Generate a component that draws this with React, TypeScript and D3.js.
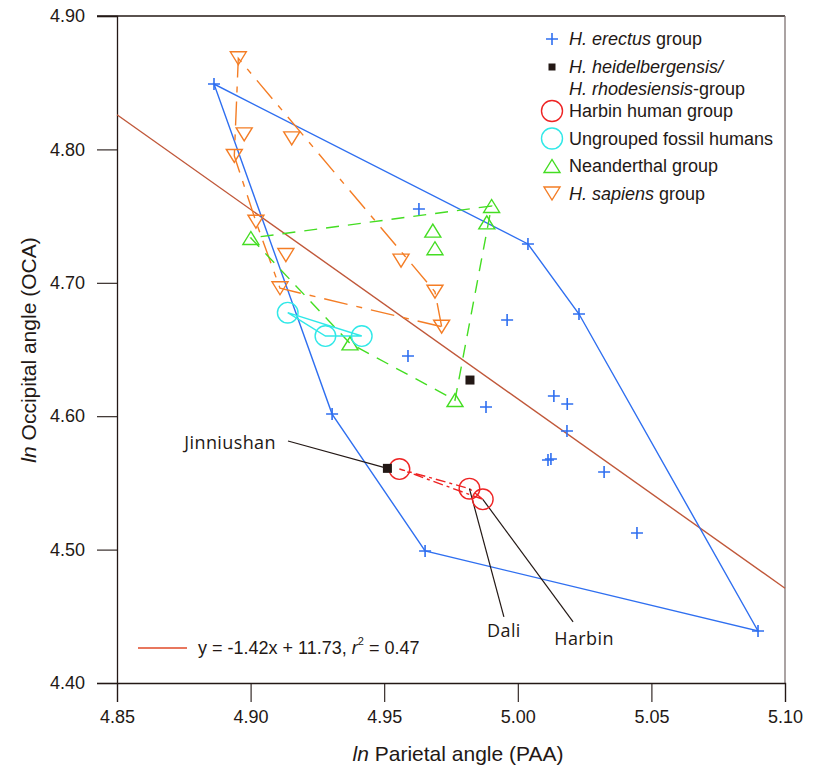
import React, { useEffect, useRef } from "react";
import * as d3 from "d3";

// ---------- data ----------
const xTicks = [4.85, 4.9, 4.95, 5.0, 5.05, 5.1];
const yTicks = [4.4, 4.5, 4.6, 4.7, 4.8, 4.9];

const erectusX = [4.8863, 4.963, 5.0038, 5.0229, 4.996, 4.9589, 5.0135, 5.0185, 4.9881, 4.9305, 5.0184, 5.0113, 5.0124, 5.0323, 5.0446, 4.9653, 5.0899];
const erectusY = [4.849, 4.7553, 4.7291, 4.6766, 4.6721, 4.6451, 4.6151, 4.6091, 4.6069, 4.6016, 4.5889, 4.5672, 4.5679, 4.5582, 4.5124, 4.499, 4.439];

const heidelX = [4.9821, 4.9512];
const heidelY = [4.6271, 4.5609];

const harbinX = [4.9557, 4.9819, 4.9869];
const harbinY = [4.5604, 4.5457, 4.5377];

const ungroupedX = [4.9139, 4.928, 4.9416];
const ungroupedY = [4.6776, 4.6601, 4.6601];

const neanderX = [4.9001, 4.9682, 4.969, 4.9372, 4.9902, 4.9884, 4.9765];
const neanderY = [4.7336, 4.7391, 4.7259, 4.6546, 4.7576, 4.7453, 4.6121];

const sapiensX = [4.8954, 4.8976, 4.9154, 4.8939, 4.902, 4.9132, 4.911, 4.9563, 4.969, 4.9715];
const sapiensY = [4.8683, 4.8113, 4.8083, 4.7951, 4.7458, 4.7208, 4.6959, 4.7166, 4.6933, 4.6671];

const regSlope = -1.42;
const regIntercept = 11.713;
const regLabel = "y = -1.42x + 11.73, ";

const annLabels = ["Jinniushan", "Dali", "Harbin"];
const annTextX = [4.9095, 4.9948, 5.0248];
const annTextY = [4.5809, 4.4398, 4.4338];
const annLineX = [4.914, 4.9948, 5.0207];
const annLineY = [4.5814, 4.4495, 4.4458];
const annTargetX = [heidelX[1], harbinX[1], harbinX[2]];
const annTargetY = [heidelY[1], harbinY[1], harbinY[2]];

// ---------- style ----------
const C_TEXT = "#231815";
const C_BLUE = "#2f6ff0";
const C_RED = "#ee2424";
const C_CYAN = "#30e8e8";
const C_GREEN = "#44dd22";
const C_ORANGE = "#f47d25";
const C_REG = "#c0583a";
const FONT = "'Liberation Sans', Arial, Helvetica, sans-serif";
const FONT2 = "'Open Sans', 'Noto Sans', sans-serif";

export default function App() {
  const ref = useRef<SVGSVGElement | null>(null);

  useEffect(() => {
    document.body.style.margin = "0";
    const svg = d3.select(ref.current);
    svg.selectAll("*").remove();

    const x = d3.scaleLinear().domain([4.85, 5.1]).range([117, 785]);
    const y = d3.scaleLinear().domain([4.4, 4.9]).range([683, 16]);

    const g = svg.append("g");

    // frame (top, right)
    g.append("line").attr("x1", 97).attr("x2", x(5.1)).attr("y1", y(4.9)).attr("y2", y(4.9))
      .attr("stroke", C_TEXT).attr("stroke-width", 1.3);
    g.append("line").attr("x1", x(5.1)).attr("x2", x(5.1)).attr("y1", y(4.9)).attr("y2", y(4.4))
      .attr("stroke", "#7d7272").attr("stroke-width", 1.3);

    // axes
    const xAxis = d3.axisBottom(x).tickValues(xTicks).tickFormat(d3.format(".2f")).tickSize(19).tickPadding(8);
    const gx = g.append("g").attr("transform", `translate(0,${y(4.4)})`).call(xAxis);
    const yAxis = d3.axisLeft(y).tickValues(yTicks).tickFormat(d3.format(".2f")).tickSize(20).tickPadding(12);
    const gy = g.append("g").attr("transform", `translate(${x(4.85)},0)`).call(yAxis);
    [gx, gy].forEach((a) => {
      a.select(".domain").attr("stroke", C_TEXT).attr("stroke-width", 1.3);
      a.selectAll(".tick line").attr("stroke", C_TEXT).attr("stroke-width", 1.1);
      a.selectAll(".tick text").attr("fill", C_TEXT).attr("font-family", FONT).attr("font-size", 18);
    });

    // axis titles
    const xt = g.append("text").attr("x", 458).attr("y", 761).attr("text-anchor", "middle")
      .attr("font-family", FONT).attr("font-size", 21).attr("fill", C_TEXT);
    xt.append("tspan").attr("font-style", "italic").text("ln");
    xt.append("tspan").text(" Parietal angle (PAA)");
    const yt = g.append("text").attr("transform", `translate(36,350) rotate(-90)`).attr("text-anchor", "middle")
      .attr("font-family", FONT).attr("font-size", 21).attr("fill", C_TEXT);
    yt.append("tspan").attr("font-style", "italic").text("ln");
    yt.append("tspan").text(" Occipital angle (OCA)");

    // regression line
    g.append("line")
      .attr("x1", x(4.85)).attr("y1", y(regSlope * 4.85 + regIntercept))
      .attr("x2", x(5.1)).attr("y2", y(regSlope * 5.1 + regIntercept))
      .attr("stroke", C_REG).attr("stroke-width", 1.4);

    // hulls
    const hull = (xs: number[], ys: number[], color: string, dash: string | null) => {
      const pts = xs.map((v, i) => [x(v), y(ys[i])] as [number, number]);
      const h = d3.polygonHull(pts);
      if (!h) return;
      const p = g.append("path").attr("d", "M" + h.map((q) => q.join(",")).join("L") + "Z")
        .attr("fill", "none").attr("stroke", color).attr("stroke-width", 1.4);
      if (dash) p.attr("stroke-dasharray", dash);
    };
    hull(erectusX, erectusY, C_BLUE, null);
    hull(sapiensX, sapiensY, C_ORANGE, "24,9,6,9");
    hull(neanderX, neanderY, C_GREEN, "13,9");
    hull(ungroupedX, ungroupedY, C_CYAN, null);
    hull(harbinX, harbinY, C_RED, "10,4,3,4");

    // marker drawers
    const plus = (sel: any, cx: number, cy: number, s = 6) => {
      sel.append("path").attr("d", `M${cx - s},${cy}H${cx + s}M${cx},${cy - s}V${cy + s}`)
        .attr("stroke", C_BLUE).attr("stroke-width", 1.6).attr("fill", "none");
    };
    const square = (sel: any, cx: number, cy: number, s = 9) => {
      sel.append("rect").attr("x", cx - s / 2).attr("y", cy - s / 2).attr("width", s).attr("height", s).attr("fill", C_TEXT);
    };
    const circle = (sel: any, cx: number, cy: number, color: string, r = 10.3) => {
      sel.append("circle").attr("cx", cx).attr("cy", cy).attr("r", r).attr("fill", "none")
        .attr("stroke", color).attr("stroke-width", 1.4);
    };
    const tri = (sel: any, cx: number, cy: number, color: string, down: boolean, w = 16, h = 13) => {
      const d = down
        ? `M${cx - w / 2},${cy - h / 2}L${cx + w / 2},${cy - h / 2}L${cx},${cy + h / 2}Z`
        : `M${cx - w / 2},${cy + h / 2}L${cx + w / 2},${cy + h / 2}L${cx},${cy - h / 2}Z`;
      sel.append("path").attr("d", d).attr("fill", "none").attr("stroke", color).attr("stroke-width", 1.4);
    };

    // annotation leader lines
    annLabels.forEach((lab, i) => {
      g.append("line").attr("x1", x(annLineX[i])).attr("y1", y(annLineY[i]))
        .attr("x2", x(annTargetX[i])).attr("y2", y(annTargetY[i]))
        .attr("stroke", C_TEXT).attr("stroke-width", 1.2);
    });

    // markers
    sapiensX.forEach((v, i) => tri(g, x(v), y(sapiensY[i]), C_ORANGE, true));
    neanderX.forEach((v, i) => tri(g, x(v), y(neanderY[i]), C_GREEN, false));
    ungroupedX.forEach((v, i) => circle(g, x(v), y(ungroupedY[i]), C_CYAN));
    harbinX.forEach((v, i) => circle(g, x(v), y(harbinY[i]), C_RED));
    erectusX.forEach((v, i) => plus(g, x(v), y(erectusY[i])));
    heidelX.forEach((v, i) => square(g, x(v), y(heidelY[i])));

    // annotation labels
    annLabels.forEach((lab, i) => {
      g.append("text").attr("x", x(annTextX[i])).attr("y", y(annTextY[i]))
        .attr("text-anchor", i === 0 ? "end" : "middle").attr("dominant-baseline", "central")
        .attr("font-family", FONT2).attr("font-size", 18).attr("letter-spacing", 0.4)
        .attr("fill", C_TEXT).text(lab);
    });

    // legend
    const lg = g.append("g");
    const lx = 552;
    const tx = 569;
    const addText = (yy: number, parts: [string, boolean][]) => {
      const t = lg.append("text").attr("x", tx).attr("y", yy).attr("dominant-baseline", "central")
        .attr("font-family", FONT).attr("font-size", 18).attr("fill", C_TEXT);
      parts.forEach(([s, it]) => {
        const sp = t.append("tspan").text(s);
        if (it) sp.attr("font-style", "italic");
      });
    };
    plus(lg, lx, 39, 6);
    addText(39, [["H. erectus", true], [" group", false]]);
    square(lg, lx, 67, 7);
    addText(67, [["H. heidelbergensis/", true]]);
    addText(89, [["H. rhodesiensis", true], ["-group", false]]);
    circle(lg, lx, 111, C_RED, 10.5);
    addText(111, [["Harbin human group", false]]);
    circle(lg, lx, 138.5, C_CYAN, 10.5);
    addText(138.5, [["Ungrouped fossil humans", false]]);
    tri(lg, lx, 166, C_GREEN, false);
    addText(166, [["Neanderthal group", false]]);
    tri(lg, lx, 193.5, C_ORANGE, true);
    addText(193.5, [["H. sapiens", true], [" group", false]]);

    // regression legend
    g.append("line").attr("x1", 138).attr("x2", 187).attr("y1", 648).attr("y2", 648)
      .attr("stroke", "#e04a28").attr("stroke-width", 1.3);
    const rt = g.append("text").attr("x", 198).attr("y", 648).attr("dominant-baseline", "central")
      .attr("font-family", FONT).attr("font-size", 18).attr("fill", C_TEXT);
    rt.append("tspan").text(regLabel);
    rt.append("tspan").attr("font-style", "italic").text("r");
    rt.append("tspan").attr("font-size", 11).attr("dy", -7).text("2");
    rt.append("tspan").attr("dy", 7).text(" = 0.47");
  }, []);

  return (
    <svg ref={ref} width={816} height={769} style={{ position: "absolute", left: 0, top: 0, background: "#fff" }} />
  );
}
